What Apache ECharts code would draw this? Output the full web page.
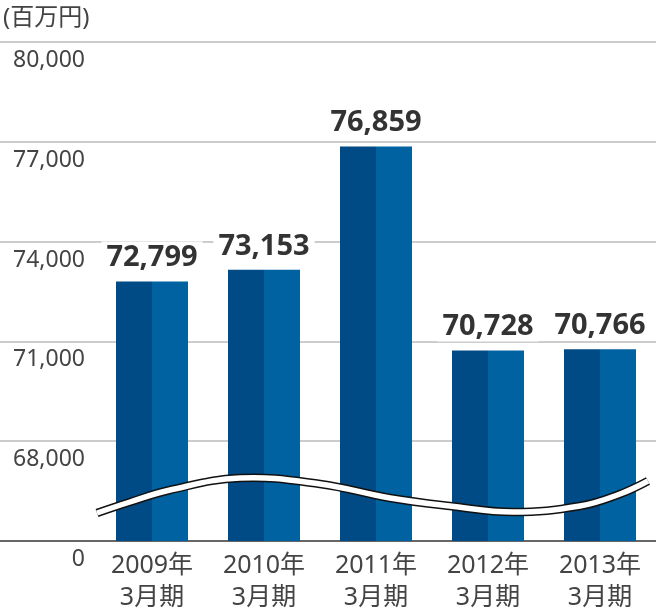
<!DOCTYPE html>
<html>
<head>
<meta charset="utf-8">
<script src="https://cdn.jsdelivr.net/npm/echarts@6/dist/echarts.min.js"></script>
<style>
html,body{margin:0;padding:0;background:#fff;}
#chart{width:656px;height:610px;}
</style>
</head>
<body>
<div id="chart"></div>
<script>
const categories = ['2009年\n3月期', '2010年\n3月期', '2011年\n3月期', '2012年\n3月期', '2013年\n3月期'];
const values = [72799, 73153, 76859, 70728, 70766];
const yMin = 65000;
const yMax = 80000;
const yInterval = 3000;
const unitLabel = '(百万円)';

const FONT = "'Noto Sans', 'Noto Sans CJK JP', sans-serif";
const DARK = '#004a86';
const LIGHT = '#0062a1';

const chart = echarts.init(document.getElementById('chart'), null, {renderer: 'canvas'});

const wavePts = [[97,513],[130,502],[170,490],[240,478],[320,484],[390,498],[450,506],[513,512],[580,506],[620,494],[648,481]];

const fmt = v => v === yMin ? '0' : v.toLocaleString('en-US');

chart.setOption({
  animation: false,
  textStyle: {fontFamily: FONT},
  title: {
    text: unitLabel, left: -2, top: 1,
    textStyle: {fontFamily: FONT, fontSize: 24, fontWeight: 'normal', color: '#444'}
  },
  grid: [
    {left: 0, right: 0, top: 42, bottom: 69, containLabel: false, outerBoundsMode: 'none'},
    {left: 96, right: 0, top: 42, bottom: 69, containLabel: false, outerBoundsMode: 'none'}
  ],
  xAxis: [
    {gridIndex: 0, type: 'value', min: 0, max: 1, axisLabel: {show: false}, axisTick: {show: false},
     splitLine: {show: false}, axisLine: {show: true, onZero: false, lineStyle: {color: '#666', width: 2}}},
    {gridIndex: 1, type: 'category', data: categories, axisLine: {show: false}, axisTick: {show: false},
     axisLabel: {fontFamily: FONT, fontSize: 25, lineHeight: 32, color: '#444', margin: 9}}
  ],
  yAxis: [
    {gridIndex: 0, type: 'value', min: yMin, max: yMax, interval: yInterval,
     axisLabel: {show: false}, axisLine: {show: false}, axisTick: {show: false},
     splitLine: {show: true, lineStyle: {color: '#cccccc', width: 2}}},
    {gridIndex: 1, type: 'value', min: yMin, max: yMax, interval: yInterval,
     axisLine: {show: false}, axisTick: {show: false}, splitLine: {show: false},
     axisLabel: {fontFamily: FONT, fontSize: 23, color: '#444', margin: 11, verticalAlign: 'top',
                 padding: [7, 0, 0, 0], formatter: fmt}}
  ],
  series: [{
    type: 'bar', xAxisIndex: 1, yAxisIndex: 1, data: values, barWidth: 72,
    itemStyle: {
      color: new echarts.graphic.LinearGradient(0, 0, 1, 0, [
        {offset: 0, color: DARK}, {offset: 0.5, color: DARK},
        {offset: 0.5, color: LIGHT}, {offset: 1, color: LIGHT}
      ])
    },
    label: {
      show: true, position: 'top', distance: 9,
      fontFamily: FONT, fontSize: 29, fontWeight: 'bold', color: '#333',
      backgroundColor: '#fff', padding: [2, 5, 0, 5],
      formatter: p => p.value.toLocaleString('en-US')
    }
  }],
  graphic: [
    {type: 'polyline', z: 100, shape: {points: wavePts, smooth: 0.4},
     style: {stroke: '#111', lineWidth: 8.5, fill: null, lineCap: 'butt'}},
    {type: 'polyline', z: 101, shape: {points: wavePts, smooth: 0.4},
     style: {stroke: '#fff', lineWidth: 5.5, fill: null, lineCap: 'butt'}}
  ]
});
</script>
</body>
</html>
